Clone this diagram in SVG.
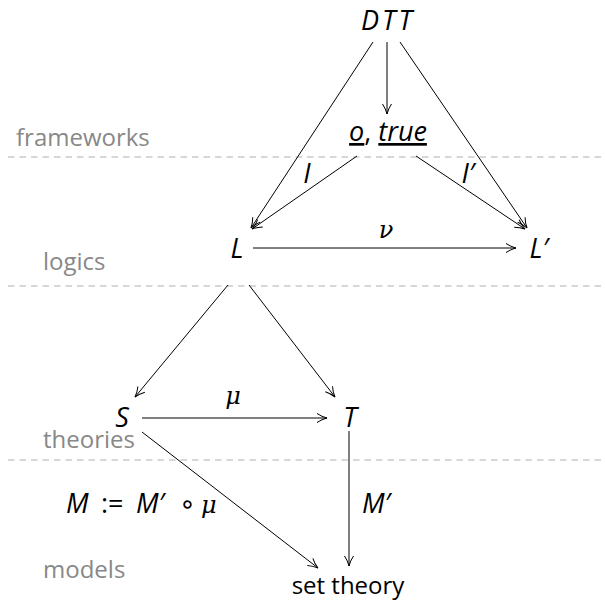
<svg xmlns="http://www.w3.org/2000/svg" width="605" height="602" viewBox="0 0 605 602">
<style>
.lane{stroke:#b0b0b0;stroke-width:1.2;stroke-dasharray:6.5 5;fill:none}
.lbl{font-family:"Open Sans","DejaVu Sans",sans-serif;font-size:24px;fill:#888}
.m{font-family:"Open Sans","DejaVu Sans",sans-serif;font-style:italic;font-size:27px;fill:#000}
.g{font-family:"DejaVu Serif",serif;font-style:italic;font-size:24px;fill:#000}
.t{font-family:"Open Sans","DejaVu Sans",sans-serif;font-size:24px;fill:#000}
.e{stroke:#000;stroke-width:1;fill:none;marker-end:url(#ah)}
</style>
<defs>
<marker id="ah" viewBox="0 0 12 12" refX="11" refY="6" markerWidth="12" markerHeight="12" markerUnits="userSpaceOnUse" orient="auto">
<path d="M1,1.5 Q6,4.8 11,6 Q6,7.2 1,10.5" fill="none" stroke="#000" stroke-width="1"/>
</marker>
</defs>
<rect width="605" height="602" fill="#fff"/>
<g id="lanes">
<line class="lane" x1="8" y1="157" x2="605" y2="157"/>
<line class="lane" x1="8" y1="286" x2="605" y2="286"/>
<line class="lane" x1="8" y1="460" x2="605" y2="460"/>
<text class="lbl" x="16" y="146">frameworks</text>
<text class="lbl" x="43" y="270">logics</text>
<text class="lbl" x="43" y="448">theories</text>
<text class="lbl" x="43" y="578">models</text>
</g>
<g id="connectors">
<line class="e" x1="373" y1="42" x2="251" y2="228"/>
<line class="e" x1="387" y1="42" x2="387" y2="114"/>
<line class="e" x1="400" y1="42" x2="527" y2="228"/>
<line class="e" x1="357" y1="156" x2="252" y2="229"/>
<line class="e" x1="416" y1="156" x2="525" y2="229"/>
<line class="e" x1="253" y1="248" x2="516" y2="248"/>
<line class="e" x1="228" y1="285" x2="135" y2="397"/>
<line class="e" x1="249" y1="285" x2="335" y2="397"/>
<line class="e" x1="142" y1="418" x2="327" y2="418"/>
<line class="e" x1="142" y1="432" x2="318" y2="568"/>
<line class="e" x1="349" y1="431" x2="349" y2="566"/>
<text class="m" x="307" y="183" text-anchor="middle">I</text>
<text class="m" x="468" y="183" text-anchor="middle">I′</text>
<text class="g" x="386" y="238" text-anchor="middle">ν</text>
<text class="g" x="233" y="404" text-anchor="middle">μ</text>
<text class="m" x="66" y="513">M</text>
<text class="m" x="101" y="513" style="font-style:normal">:=</text>
<text class="m" x="136" y="513">M′</text>
<text class="m" x="179" y="513" style="font-style:normal">∘</text>
<text class="g" x="201" y="513">μ</text>
<text class="m" x="362" y="513">M′</text>
</g>
<g id="DTT"><text class="m" x="388" y="30" text-anchor="middle" letter-spacing="3">DTT</text></g>
<g id="otrue"><text class="m" x="388" y="141" text-anchor="middle"><tspan text-decoration="underline">o</tspan><tspan font-style="normal">, </tspan><tspan text-decoration="underline">true</tspan></text></g>
<g id="L"><text class="m" x="237" y="258" text-anchor="middle">L</text></g>
<g id="Lp"><text class="m" x="539" y="258" text-anchor="middle">L′</text></g>
<g id="S"><text class="m" x="122" y="427" text-anchor="middle">S</text></g>
<g id="T"><text class="m" x="350" y="427" text-anchor="middle">T</text></g>
<g id="settheory"><text class="t" x="348" y="594" text-anchor="middle">set theory</text></g>
</svg>
